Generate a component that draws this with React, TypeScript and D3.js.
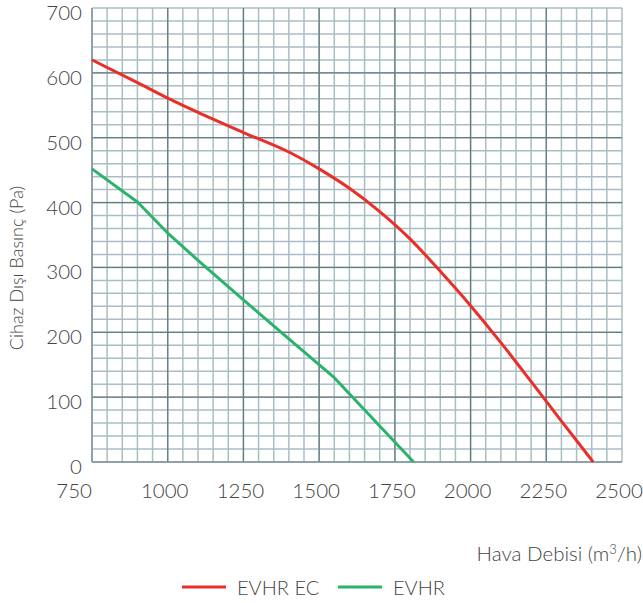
import React, { useEffect, useRef } from 'react';
import * as d3 from 'd3';

// EVHR EC (red) and EVHR (green) fan curves
const redFlow = [750, 900, 1000, 1100, 1250, 1400, 1500, 1600, 1700, 1800, 1900, 2000, 2100, 2200, 2300, 2405];
const redPressure = [620, 585, 561, 539, 508, 478, 452, 422, 386, 344, 294, 241, 184, 124, 63, 0];

const greenFlow = [750, 900, 1000, 1100, 1250, 1400, 1550, 1812];
const greenPressure = [452, 401, 353, 311, 250, 190, 130, 0];

const xTicks = [750, 1000, 1250, 1500, 1750, 2000, 2250, 2500];
const yTicks = [0, 100, 200, 300, 400, 500, 600, 700];

const seriesNames = ['EVHR EC', 'EVHR'];
const seriesColors = ['#ea2f28', '#2bb36c'];

const W = 643;
const H = 603;

export default function App() {
  const svgRef = useRef<SVGSVGElement>(null);

  useEffect(() => {
    if (!svgRef.current) return;
    const svg = d3.select(svgRef.current);
    svg.selectAll('*').remove();

    const left = 92, right = 622, top = 8, bottom = 462;
    const x = d3.scaleLinear().domain([750, 2500]).range([left, right]);
    const y = d3.scaleLinear().domain([0, 700]).range([bottom, top]);

    const font = 'Lato, "Open Sans", sans-serif';
    const textColor = '#444';

    const grid = svg.append('g');

    // minor grid: 5 steps between each labelled tick
    const xMinor = d3.range(xTicks[0], xTicks[xTicks.length - 1] + 1, 50);
    const yMinor = d3.range(yTicks[0], yTicks[yTicks.length - 1] + 1, 20);

    grid.selectAll('line.vmin').data(xMinor).join('line')
      .attr('x1', d => x(d)).attr('x2', d => x(d))
      .attr('y1', top).attr('y2', bottom)
      .attr('stroke', '#a9bec4').attr('stroke-width', 1.5);

    grid.selectAll('line.hmin').data(yMinor).join('line')
      .attr('y1', d => y(d)).attr('y2', d => y(d))
      .attr('x1', left).attr('x2', right)
      .attr('stroke', '#a9bec4').attr('stroke-width', 1.5);

    // major grid
    grid.selectAll('line.vmaj').data(xTicks.slice(1, -1)).join('line')
      .attr('x1', d => x(d)).attr('x2', d => x(d))
      .attr('y1', top).attr('y2', bottom)
      .attr('stroke', '#657d82').attr('stroke-width', 1.3);

    grid.selectAll('line.hmaj').data(yTicks.slice(1, -1)).join('line')
      .attr('y1', d => y(d)).attr('y2', d => y(d))
      .attr('x1', left).attr('x2', right)
      .attr('stroke', '#657d82').attr('stroke-width', 1.3);

    // left and bottom edges a bit darker
    grid.append('line')
      .attr('x1', left).attr('x2', left).attr('y1', top).attr('y2', bottom)
      .attr('stroke', '#7d949a').attr('stroke-width', 1.5);
    grid.append('line')
      .attr('x1', left).attr('x2', right).attr('y1', bottom).attr('y2', bottom)
      .attr('stroke', '#7d949a').attr('stroke-width', 1.5);

    // curves: red is smooth, green is a broken line
    const smooth = d3.line<[number, number]>()
      .x(d => x(d[0]))
      .y(d => y(d[1]))
      .curve(d3.curveMonotoneX);
    const straight = d3.line<[number, number]>()
      .x(d => x(d[0]))
      .y(d => y(d[1]));

    const curves: [number, number][][] = [
      redFlow.map((f, i) => [f, redPressure[i]]),
      greenFlow.map((f, i) => [f, greenPressure[i]])
    ];

    curves.forEach((pts, i) => {
      svg.append('path')
        .datum(pts)
        .attr('fill', 'none')
        .attr('stroke', seriesColors[i])
        .attr('stroke-width', 3)
        .attr('stroke-linejoin', 'round')
        .attr('d', i === 0 ? smooth : straight);
    });

    // y tick labels
    svg.append('g').selectAll('text').data(yTicks).join('text')
      .attr('x', 82)
      .attr('y', d => y(d) + 4)
      .attr('text-anchor', 'end')
      .attr('dominant-baseline', 'central')
      .attr('font-family', font)
      .attr('font-weight', 300)
      .attr('font-size', 20.5)
      .attr('fill', textColor)
      .text(d => d);

    // x tick labels (first one sits left of the frame)
    svg.append('g').selectAll('text').data(xTicks).join('text')
      .attr('x', (d, i) => (i === 0 ? x(d) : x(d) - 3))
      .attr('y', 498)
      .attr('text-anchor', (d, i) => (i === 0 ? 'end' : 'middle'))
      .attr('font-family', font)
      .attr('font-weight', 300)
      .attr('font-size', 20.5)
      .attr('fill', textColor)
      .text(d => d);

    // axis titles
    svg.append('text')
      .attr('transform', 'translate(23,268) rotate(-90)')
      .attr('text-anchor', 'middle')
      .attr('font-family', font)
      .attr('font-weight', 300)
      .attr('font-size', 18)
      .attr('fill', textColor)
      .text('Cihaz Dışı Basınç (Pa)');

    const xt = svg.append('text')
      .attr('x', 642)
      .attr('y', 561)
      .attr('text-anchor', 'end')
      .attr('font-family', font)
      .attr('font-weight', 300)
      .attr('font-size', 20.5)
      .attr('fill', textColor);
    xt.append('tspan').text('Hava Debisi (m');
    xt.append('tspan').attr('font-size', 13).attr('dy', -7).text('3');
    xt.append('tspan').attr('dy', 7).text('/h)');

    // legend
    const legendX = [182, 338];
    const legend = svg.append('g');
    seriesNames.forEach((name, i) => {
      legend.append('line')
        .attr('x1', legendX[i]).attr('x2', legendX[i] + 44)
        .attr('y1', 587).attr('y2', 587)
        .attr('stroke', seriesColors[i])
        .attr('stroke-width', 3);
      legend.append('text')
        .attr('x', legendX[i] + 55)
        .attr('y', 595)
        .attr('font-family', font)
        .attr('font-weight', 300)
        .attr('font-size', 20)
        .attr('fill', textColor)
        .text(name);
    });
  }, []);

  return (
    <svg
      ref={svgRef}
      width={W}
      height={H}
      style={{ position: 'absolute', left: 0, top: 0, background: '#fff' }}
    />
  );
}
